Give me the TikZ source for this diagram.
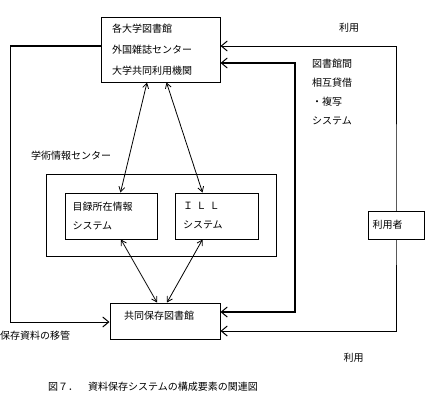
\documentclass[tikz,border=0pt]{standalone}
\usepackage{fontspec}
\setmainfont{Noto Sans CJK JP}
\usetikzlibrary{arrows.meta, positioning, calc}
\tikzset{
    box/.style={rectangle, draw=black, line width=1pt, fill=white,
                align=left, inner ysep=0pt, font=\fontsize{10}{19}\selectfont},
    flow/.style={{Straight Barb[length=6pt, width=10pt, line width=1pt]}-{Straight Barb[length=6pt, width=10pt, line width=1pt]}, line width=1pt},
    oneway/.style={-{Straight Barb[length=6pt, width=10pt]}, line width=1pt},
    heavy/.style={line width=1.8pt},
    link/.style={{Straight Barb[length=5pt, width=6pt]}-{Straight Barb[length=5pt, width=6pt]}, line width=0.8pt},
    tag/.style={font=\fontsize{10}{19}\selectfont, inner sep=0pt, align=left}
}
\begin{document}
\begin{tikzpicture}[x=1pt, y=-1pt]
    \useasboundingbox (0,0) rectangle (435,404);
    \node[box, text width=97pt, inner xsep=11pt, minimum height=64pt,
          font=\fontsize{10}{21}\selectfont] (lib) at (160.5,50)
          {各大学図書館\\外国雑誌センター\\大学共同利用機関};
    \node[box, minimum width=230pt, minimum height=82pt] (nacsis) at (161,215) {};
    \node[tag, anchor=west] (nacsislbl) at (31,156) {学術情報センター};
    \node[box, text width=77pt, inner xsep=7.5pt, minimum height=46pt] (cat) at (111,216)
          {目録所在情報\\システム};
    \node[box, text width=67pt, inner xsep=8pt, minimum height=46pt] (ill) at (216.5,216)
          {Ｉ Ｌ Ｌ\\システム};
    \node[box, text width=82pt, inner xsep=14pt, minimum height=36pt, text depth=12pt] (depo) at (165,321)
          {共同保存図書館};
    \coordinate (lc) at (10,46);
    \coordinate (rt) at (295,200);
    \coordinate (ut) at (396,200);
    % transfer of stored material
    \draw[heavy] ([yshift=4pt]lib.west) -- (lc);
    \draw[oneway] (lc) |- ([yshift=-1pt]depo.west);
    \node[tag, anchor=west] (movelbl) at (0,336) {保存資料の移管};
    % interlibrary loan
    \draw[flow, heavy] ([yshift=-13pt]lib.east) -| (rt) |- ([yshift=9pt]depo.east);
    \node[tag, anchor=west] (illlbl) at (312,92.5) {図書館間\\相互貸借\\・複写\\システム};
    % users
    \draw[flow] ([yshift=4pt]lib.east) -| (ut) |- ([yshift=-10pt]depo.east);
    \node[box, text width=47pt, inner xsep=4.5pt, minimum height=28pt] (user) at (396,225) {利用者};
    \node[tag] (use1) at (349,28) {利用};
    \node[tag] (use2) at (353.5,358) {利用};
    \draw[link] ([xshift=-13.5pt]lib.south) -- ([xshift=9.5pt]cat.north);
    \draw[link] ([xshift=6pt]lib.south) -- ([xshift=-14pt]ill.north);
    \draw[link] ([xshift=10pt]cat.south) -- ([xshift=-8pt]depo.north);
    \draw[link] ([xshift=-14pt]ill.south) -- ([xshift=2pt]depo.north);
    \node[tag, anchor=west] (caption) at (48,387) {図７．　資料保存システムの構成要素の関連図};
\end{tikzpicture}
\end{document}
